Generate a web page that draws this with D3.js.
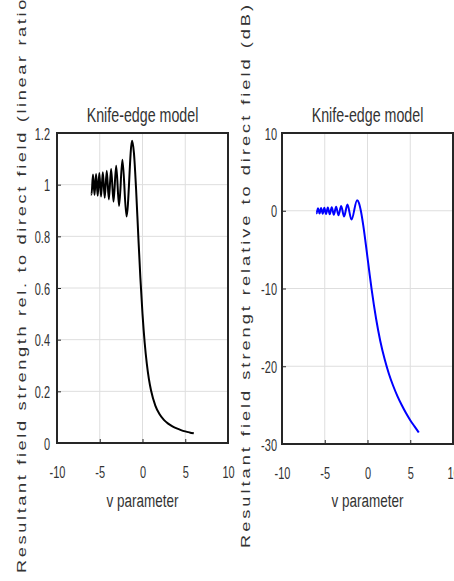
<!DOCTYPE html>
<html>
<head>
<meta charset="utf-8">
<script src="https://cdn.jsdelivr.net/npm/d3@7"></script>
<style>
  body { margin: 0; background: #fff; }
  text { font-family: Arial, "Liberation Sans", sans-serif; fill: #333; }
</style>
</head>
<body>
<div id="chart"></div>
<script>
var w = 454;
var h = 581;

// v parameter samples (extremes of the ripple, then the fall-off)
var vParam = [-6.0, -5.96, -5.79, -5.61, -5.43, -5.24, -5.05, -4.85, -4.64, -4.42,
              -4.18, -3.94, -3.67, -3.39, -3.08, -2.74, -2.35, -1.87, -1.22, -1.0,
              -0.75, -0.5, -0.25, 0, 0.25, 0.5, 0.75, 1, 1.5, 2,
              2.5, 3, 3.5, 4, 4.5, 5, 5.5, 6];
// resultant field, linear ratio
var fieldLinear = [0.963, 0.962, 1.039, 0.960, 1.041, 0.957, 1.045, 0.954, 1.048, 0.949,
                   1.054, 0.943, 1.061, 0.934, 1.073, 0.918, 1.096, 0.877, 1.170, 1.122,
                   0.982, 0.807, 0.640, 0.500, 0.390, 0.308, 0.247, 0.203, 0.145, 0.111,
                   0.0895, 0.0749, 0.0643, 0.0563, 0.050, 0.045, 0.041, 0.0375];
// resultant field, dB
var fieldDb = [-0.327, -0.337, 0.332, -0.355, 0.349, -0.382, 0.382, -0.409, 0.407, -0.455,
               0.457, -0.510, 0.514, -0.593, 0.612, -0.743, 0.796, -1.140, 1.364, 1.00,
               -0.16, -1.86, -3.87, -6.02, -8.17, -10.23, -12.14, -13.86, -16.78, -19.08,
               -20.96, -22.51, -23.84, -24.99, -26.02, -26.94, -27.74, -28.52];

var xTicks = [-10, -5, 0, 5, 10];
var linTicks = [0, 0.2, 0.4, 0.6, 0.8, 1, 1.2];
var dbTicks = [-30, -20, -10, 0, 10];

var titleText = "Knife-edge model";
var xLabelText = "v parameter";
var yLabelLin = "Resultant field strength rel. to direct field (linear ratio)";
var yLabelDb = "Resultant field strengt relative to direct field (dB)";

var svg = d3.select("#chart")
            .append("svg")
            .attr("width", w)
            .attr("height", h);

var stretch = 1.4; // picture is squashed sideways, text looks tall

function panel(opt) {
    var xScale = d3.scaleLinear().domain([-10, 10]).range([opt.left, opt.right]);
    var yScale = d3.scaleLinear().domain(opt.yDomain).range([opt.bottom, opt.top]);
    var g = svg.append("g");

    // grid
    g.selectAll(".gx").data(xTicks).enter().append("line")
        .attr("x1", function(d) { return xScale(d); })
        .attr("x2", function(d) { return xScale(d); })
        .attr("y1", opt.top).attr("y2", opt.bottom)
        .attr("stroke", "#dedede").attr("stroke-width", 1);
    g.selectAll(".gy").data(opt.yTicks).enter().append("line")
        .attr("x1", opt.left).attr("x2", opt.right)
        .attr("y1", function(d) { return yScale(d); })
        .attr("y2", function(d) { return yScale(d); })
        .attr("stroke", "#dedede").attr("stroke-width", 1);

    // curve
    var pts = vParam.map(function(v, i) { return [v, opt.values[i]]; });
    var line = d3.line()
        .x(function(d) { return xScale(d[0]); })
        .y(function(d) { return yScale(d[1]); })
        .curve(d3.curveMonotoneX);
    g.append("path").datum(pts)
        .attr("d", line)
        .attr("fill", "none")
        .attr("stroke", opt.color)
        .attr("stroke-width", 2);

    // axes
    var xAxis = d3.axisBottom(xScale).tickValues(xTicks).tickSizeInner(-4).tickSizeOuter(0)
        .tickFormat(function(d) { return String(d); });
    var gx = g.append("g").attr("transform", "translate(0," + opt.bottom + ")").call(xAxis);
    gx.select(".domain").remove();
    gx.selectAll("line").attr("stroke", "#262626");
    gx.selectAll("text")
        .attr("y", null).attr("dy", null)
        .attr("font-size", 11)
        .attr("transform", "translate(0,35) scale(1,1.5)");

    var yAxis = d3.axisLeft(yScale).tickValues(opt.yTicks).tickSizeInner(-4).tickSizeOuter(0)
        .tickFormat(function(d) { return String(d); });
    var gy = g.append("g").attr("transform", "translate(" + opt.left + ",0)").call(yAxis);
    gy.select(".domain").remove();
    gy.selectAll("line").attr("stroke", "#262626");
    gy.selectAll("text")
        .attr("x", null).attr("dy", null)
        .attr("font-size", 11)
        .attr("text-anchor", "end")
        .attr("transform", "translate(" + opt.labelGap + ",6) scale(1,1.5)");

    // box
    g.append("rect")
        .attr("x", opt.left).attr("y", opt.top)
        .attr("width", opt.right - opt.left).attr("height", opt.bottom - opt.top)
        .attr("fill", "none").attr("stroke", "#262626").attr("stroke-width", 2);

    var cx = (opt.left + opt.right) / 2;
    g.append("text").text(titleText)
        .attr("font-size", 15).attr("text-anchor", "middle")
        .attr("transform", "translate(" + cx + ",122) scale(0.95,1.3)");
    g.append("text").text(xLabelText)
        .attr("font-size", 13.5).attr("text-anchor", "middle")
        .attr("transform", "translate(" + cx + ",507) scale(1," + stretch + ")");

    g.append("text").text(opt.yLabel)
        .attr("font-size", 13)
        .attr("textLength", opt.yLabelLen / stretch)
        .attr("lengthAdjust", "spacing")
        .attr("transform", "translate(" + opt.yLabelX + "," + opt.yLabelY + ") rotate(-90) scale(" + stretch + ",1)");
}

panel({left: 57, right: 228, top: 133, bottom: 443, yDomain: [0, 1.2],
       yTicks: linTicks, values: fieldLinear, color: "#000",
       labelGap: -7, yLabel: yLabelLin, yLabelX: 26, yLabelY: 573, yLabelLen: 582});
panel({left: 282, right: 453, top: 133, bottom: 444, yDomain: [-30, 10],
       yTicks: dbTicks, values: fieldDb, color: "#0000ff",
       labelGap: -5, yLabel: yLabelDb, yLabelX: 250, yLabelY: 548, yLabelLen: 543});
</script>
</body>
</html>
